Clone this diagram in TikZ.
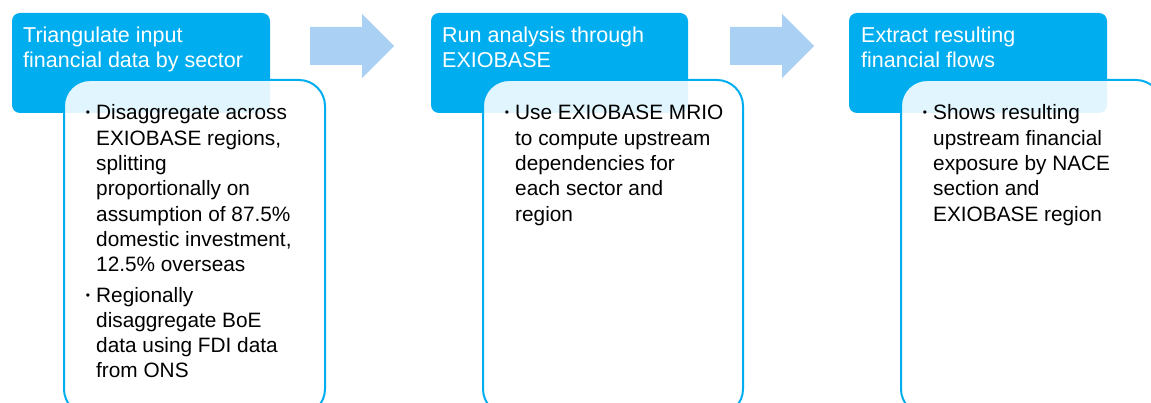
\documentclass[tikz,border=0pt]{standalone}
\usepackage{fontspec}
\setmainfont{Liberation Sans}
\definecolor{hdr}{RGB}{0,174,239}
\definecolor{arr}{RGB}{170,208,243}
\begin{document}
\begin{tikzpicture}[x=1pt,y=-1pt,
  hdrbox/.style={fill=hdr, draw=none, rounded corners=8pt},
  bodybox/.style={draw=hdr, line width=2pt, fill=white, fill opacity=0.88, rounded corners=26pt},
  arrowshape/.style={fill=arr, draw=none},
  hdrtxt/.style={anchor=base west, inner sep=0pt, text=white, font=\fontsize{21.5}{25}\selectfont},
  bodytxt/.style={anchor=base west, inner sep=0pt, text=black, font=\fontsize{20.8}{25}\selectfont},
  bul/.style={anchor=base, inner sep=0pt, text=black, font=\fontsize{12}{12}\selectfont}]
\clip (0,0) rectangle (1151,403);
\fill[white] (0,0) rectangle (1151,403);
% arrows
\fill[arrowshape] (310,27) -- (362,27) -- (362,14) -- (394,46) -- (362,78) -- (362,65) -- (310,65) -- cycle;
\fill[arrowshape] (730,27) -- (782,27) -- (782,14) -- (814,46) -- (782,78) -- (782,65) -- (730,65) -- cycle;
% step 1
\path[hdrbox] (12,13) rectangle (270,113);
\path[bodybox] (64,80) rectangle (325,415);
\foreach \t [count=\i] in {Triangulate input, financial data by sector}
  \node[hdrtxt] (h1l\i) at (23,{43+25*(\i-1)}) {\t};
\node[bul] (b1a) at (88,117) {•};
\foreach \t [count=\i] in {Disaggregate across, {EXIOBASE regions,}, splitting, proportionally on, assumption of 87.5\%, {domestic investment,}, 12.5\% overseas}
  \node[bodytxt] (t1a\i) at (96,{120+25.3*(\i-1)}) {\t};
\node[bul] (b1b) at (88,299) {•};
\foreach \t [count=\i] in {Regionally, disaggregate BoE, data using FDI data, from ONS}
  \node[bodytxt] (t1b\i) at (96,{302+25.3*(\i-1)}) {\t};
% step 2
\path[hdrbox] (431,13) rectangle (688,113);
\path[bodybox] (483,80) rectangle (743,415);
\foreach \t [count=\i] in {Run analysis through, EXIOBASE}
  \node[hdrtxt] (h2l\i) at (442,{43+25*(\i-1)}) {\t};
\node[bul] (b2a) at (507,117) {•};
\foreach \t [count=\i] in {Use EXIOBASE MRIO, to compute upstream, dependencies for, each sector and, region}
  \node[bodytxt] (t2a\i) at (515,{120+25.3*(\i-1)}) {\t};
% step 3
\path[hdrbox] (849,13) rectangle (1107,113);
\path[bodybox] (901,80) rectangle (1162,415);
\foreach \t [count=\i] in {Extract resulting, financial flows}
  \node[hdrtxt] (h3l\i) at (861,{43+25*(\i-1)}) {\t};
\node[bul] (b3a) at (925,117) {•};
\foreach \t [count=\i] in {Shows resulting, upstream financial, exposure by NACE, section and, EXIOBASE region}
  \node[bodytxt] (t3a\i) at (933,{120+25.3*(\i-1)}) {\t};
\end{tikzpicture}
\end{document}
